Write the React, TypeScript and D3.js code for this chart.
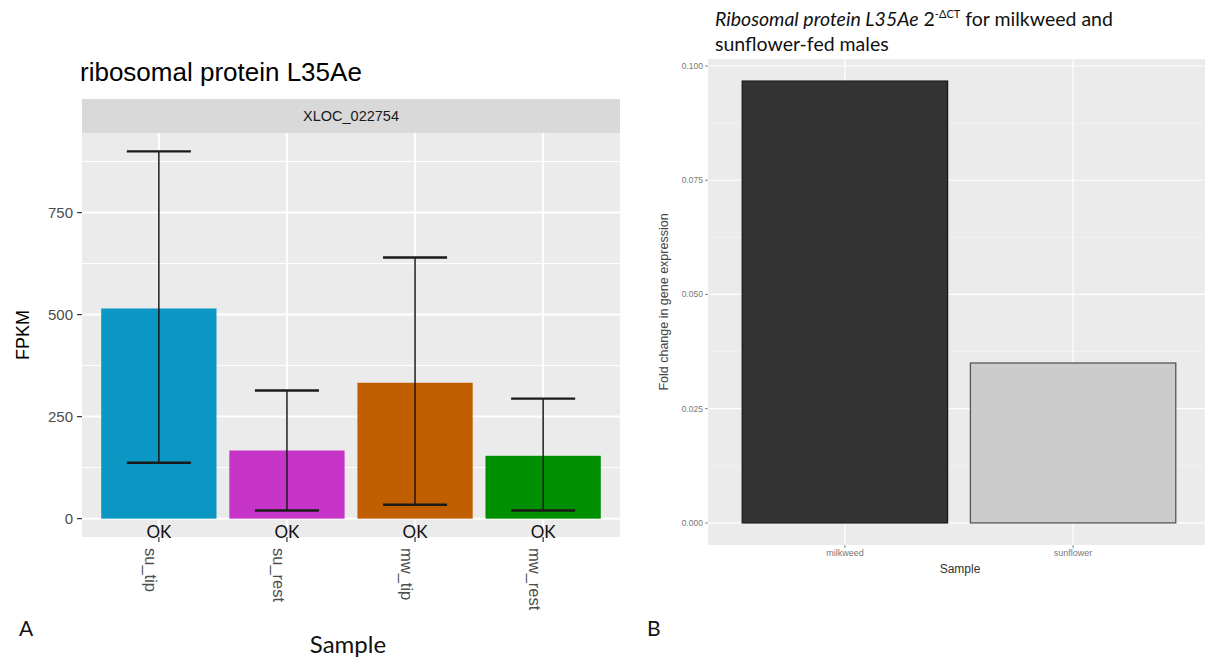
import React from "react";
import * as d3 from "d3";

const samplesA = ["su_tip", "su_rest", "mw_tip", "mw_rest"];
const fpkm = [515, 167, 333, 154];
const fpkmLo = [137, 20, 34, 20];
const fpkmHi = [900, 314, 640, 294];
const statusA = ["OK", "OK", "OK", "OK"];
const colorsA = ["#0B97C3", "#C634C8", "#C05E00", "#008F00"];
const ticksA = [0, 250, 500, 750];
const minorA = [125, 375, 625, 875];

const samplesB = ["milkweed", "sunflower"];
const foldB = [0.0967, 0.035];
const fillB = ["#333333", "#CCCCCC"];
const ticksB = [0, 0.025, 0.05, 0.075, 0.1];
const minorB = [0.0125, 0.0375, 0.0625, 0.0875];

const ARIAL = "'Liberation Sans', Arial, sans-serif";
const CAL = "Lato, 'Open Sans', sans-serif";

function expand(lo: number, hi: number): [number, number] {
  const s = hi - lo;
  return [lo - 0.05 * s, hi + 0.05 * s];
}

export default function App() {
  // Panel A
  const aL = 82, aR = 620, aT = 133, aB = 537;
  const xA = d3.scalePoint<string>().domain(samplesA).range([aL, aR]).padding(0.6);
  const stepA = xA.step();
  const yA = d3.scaleLinear().domain(expand(0, d3.max(fpkmHi)!)).range([aB, aT]);
  const barWA = stepA * 0.9;
  const capWA = stepA * 0.5;

  // Panel B
  const bL = 708, bR = 1210, bT = 59, bB = 545;
  const xB = d3.scalePoint<string>().domain(samplesB).range([bL, bR]).padding(0.6);
  const stepB = xB.step();
  const yB = d3.scaleLinear().domain(expand(0, d3.max(foldB)!)).range([bB, bT]);
  const barWB = stepB * 0.9;

  return (
    <svg width={1205} height={659} style={{ position: "absolute", left: 0, top: 0, background: "#fff" }}>
      <rect x={0} y={0} width={1205} height={659} fill="#fff" />
      {/* ---------- Panel A ---------- */}
      <text x={80} y={81} fontFamily={ARIAL} fontSize={26} fill="#000">ribosomal protein L35Ae</text>
      <rect x={aL} y={99} width={aR - aL} height={aT - 99} fill="#D9D9D9" />
      <text x={(aL + aR) / 2} y={121} textAnchor="middle" fontFamily={ARIAL} fontSize={14.5} fill="#1A1A1A">XLOC_022754</text>
      <rect x={aL} y={aT} width={aR - aL} height={aB - aT} fill="#EBEBEB" />
      {minorA.map((t) => (
        <line key={"ma" + t} x1={aL} x2={aR} y1={yA(t)} y2={yA(t)} stroke="#fff" strokeWidth={1} />
      ))}
      {ticksA.map((t) => (
        <line key={"ga" + t} x1={aL} x2={aR} y1={yA(t)} y2={yA(t)} stroke="#fff" strokeWidth={2} />
      ))}
      {samplesA.map((s) => (
        <line key={"gv" + s} x1={xA(s)} x2={xA(s)} y1={aT} y2={aB} stroke="#fff" strokeWidth={2} />
      ))}
      {samplesA.map((s, i) => (
        <rect key={"ba" + s} x={xA(s)! - barWA / 2} y={yA(fpkm[i])} width={barWA} height={yA(0) - yA(fpkm[i])} fill={colorsA[i]} />
      ))}
      {samplesA.map((s, i) => {
        const cx = xA(s)!;
        return (
          <g key={"eb" + s} stroke="#1a1a1a">
            <line x1={cx} x2={cx} y1={yA(fpkmLo[i])} y2={yA(fpkmHi[i])} strokeWidth={1.5} />
            <line x1={cx - capWA / 2} x2={cx + capWA / 2} y1={yA(fpkmHi[i])} y2={yA(fpkmHi[i])} strokeWidth={2.4} />
            <line x1={cx - capWA / 2} x2={cx + capWA / 2} y1={yA(fpkmLo[i])} y2={yA(fpkmLo[i])} strokeWidth={2.4} />
          </g>
        );
      })}
      {samplesA.map((s, i) => (
        <text key={"ok" + s} x={xA(s)} y={yA(0) + 19} textAnchor="middle" fontFamily={CAL} fontSize={17} fill="#111">{statusA[i]}</text>
      ))}
      {ticksA.map((t) => (
        <g key={"ta" + t}>
          <line x1={aL - 5} x2={aL} y1={yA(t)} y2={yA(t)} stroke="#333" strokeWidth={1.2} />
          <text x={aL - 9} y={yA(t)} dy="0.35em" textAnchor="end" fontFamily={ARIAL} fontSize={15} fill="#4D4D4D">{t}</text>
        </g>
      ))}
      {samplesA.map((s) => (
        <g key={"xa" + s}>
          <line x1={xA(s)} x2={xA(s)} y1={aB} y2={aB + 5} stroke="#333" strokeWidth={1.2} />
          <text transform={`translate(${xA(s)},${aB + 11}) rotate(90)`} dy="0.85em" textAnchor="start" fontFamily={ARIAL} fontSize={16.5} fill="#4D4D4D">{s}</text>
        </g>
      ))}
      <text transform={`translate(29,${(aT + aB) / 2}) rotate(-90)`} textAnchor="middle" fontFamily={ARIAL} fontSize={18} fill="#000">FPKM</text>
      <text x={348} y={653} textAnchor="middle" fontFamily={CAL} fontSize={24} fill="#111">Sample</text>
      <text x={19} y={636} fontFamily={CAL} fontSize={21} fill="#111">A</text>

      {/* ---------- Panel B ---------- */}
      <text x={715} y={26} fontFamily={CAL} fontSize={19.5} fill="#111">
        <tspan fontStyle="italic">Ribosomal protein L35Ae</tspan>
        <tspan> 2</tspan>
        <tspan fontSize={11} dy={-8}>-ΔCT</tspan>
        <tspan dy={8}> for milkweed and</tspan>
      </text>
      <text x={715} y={51} fontFamily={CAL} fontSize={19.5} fill="#111">sunflower-fed males</text>
      <rect x={bL} y={bT} width={1205 - bL} height={bB - bT} fill="#EBEBEB" />
      {minorB.map((t) => (
        <line key={"mb" + t} x1={bL} x2={1205} y1={yB(t)} y2={yB(t)} stroke="#F4F4F4" strokeWidth={0.8} />
      ))}
      {ticksB.map((t) => (
        <line key={"gb" + t} x1={bL} x2={1205} y1={yB(t)} y2={yB(t)} stroke="#fff" strokeWidth={1.2} />
      ))}
      {samplesB.map((s) => (
        <line key={"gvb" + s} x1={xB(s)} x2={xB(s)} y1={bT} y2={bB} stroke="#fff" strokeWidth={1.2} />
      ))}
      {samplesB.map((s, i) => (
        <rect key={"bb" + s} x={xB(s)! - barWB / 2} y={yB(foldB[i])} width={barWB} height={yB(0) - yB(foldB[i])} fill={fillB[i]} stroke={i === 0 ? "#1a1a1a" : "#555"} strokeWidth={1.3} />
      ))}
      {ticksB.map((t) => (
        <g key={"tb" + t}>
          <line x1={bL - 3} x2={bL} y1={yB(t)} y2={yB(t)} stroke="#666" strokeWidth={0.8} />
          <text x={bL - 5} y={yB(t)} dy="0.35em" textAnchor="end" fontFamily={ARIAL} fontSize={8.5} fill="#777">{d3.format(".3f")(t)}</text>
        </g>
      ))}
      {samplesB.map((s) => (
        <g key={"xb" + s}>
          <line x1={xB(s)} x2={xB(s)} y1={bB} y2={bB + 3} stroke="#666" strokeWidth={0.8} />
          <text x={xB(s)} y={bB + 11} textAnchor="middle" fontFamily={ARIAL} fontSize={9} fill="#777">{s}</text>
        </g>
      ))}
      <text transform={`translate(668,${(bT + bB) / 2}) rotate(-90)`} textAnchor="middle" fontFamily={ARIAL} fontSize={12.5} fill="#444">Fold change in gene expression</text>
      <text x={960} y={573} textAnchor="middle" fontFamily={ARIAL} fontSize={12} fill="#333">Sample</text>
      <text x={647} y={636} fontFamily={CAL} fontSize={21} fill="#111">B</text>
    </svg>
  );
}
